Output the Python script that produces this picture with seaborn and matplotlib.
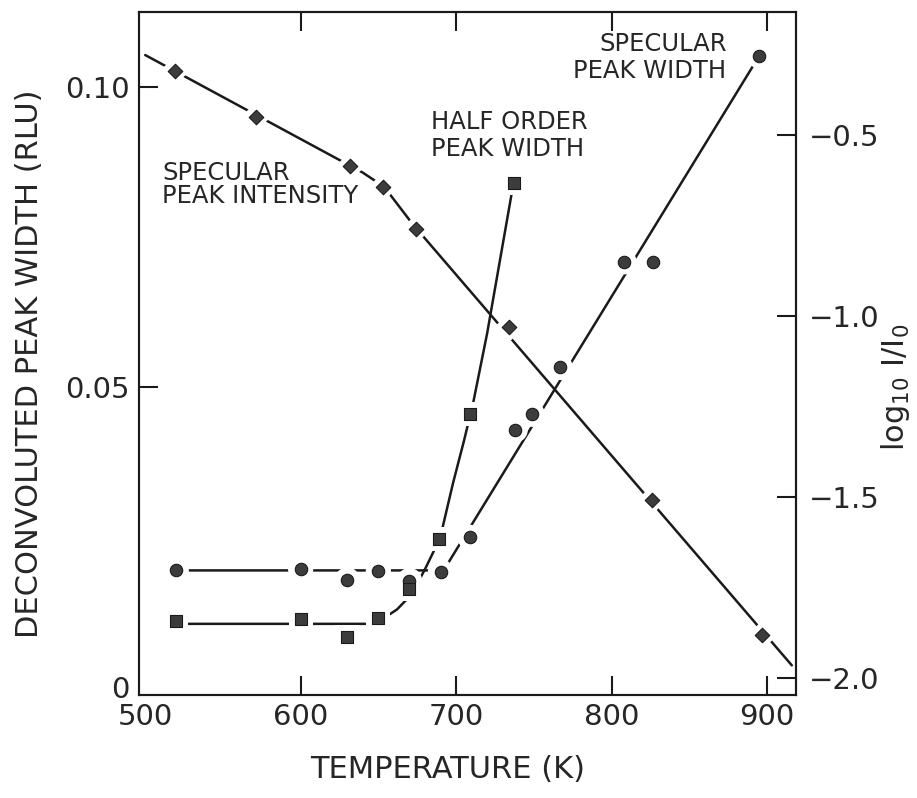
import numpy as np
import pandas as pd
import matplotlib.pyplot as plt
import seaborn as sns

sns.set_style("ticks")
plt.rcParams['font.family'] = ['DejaVu Sans']

# specular peak width (left axis, circles)
spec_T = [520, 600, 630, 650, 670, 690, 709, 738, 749, 767, 808, 827, 895]
spec_width = [0.0195, 0.0197, 0.0179, 0.0194, 0.0178, 0.0193, 0.0250, 0.0429,
              0.0455, 0.0533, 0.0709, 0.0709, 0.1052]
spec_fit_T = [520, 692, 896]
spec_fit_width = [0.0195, 0.0195, 0.1056]

# half order peak width (left axis, squares)
half_T = [520, 600, 630, 650, 670, 689, 709, 737]
half_width = [0.0110, 0.0114, 0.0084, 0.0116, 0.0164, 0.0247, 0.0455, 0.0841]
half_fit_T = [520, 645, 655, 662, 668, 674, 680, 686, 691, 698, 705, 711, 720, 737]
half_fit_width = [0.0106, 0.0106, 0.0118, 0.0130, 0.0146, 0.0168, 0.0197, 0.0229,
                  0.0263, 0.0340, 0.0410, 0.0474, 0.0590, 0.0841]

# specular peak intensity (right axis, diamonds)
int_T = [519, 571, 632, 653, 674, 734, 826, 897]
int_log = [-0.322, -0.450, -0.585, -0.643, -0.760, -1.031, -1.508, -1.882]
int_fit_T = [500, 640, 648, 656, 664, 672, 916]
int_fit_log = [-0.278, -0.603, -0.626, -0.655, -0.700, -0.745, -1.965]

fig, ax = plt.subplots(figsize=(9.17, 7.98), dpi=100)
fig.subplots_adjust(left=139/917, right=796/917, bottom=1 - 695/798, top=1 - 12/798)
ax2 = ax.twinx()

lw = 1.8
ink = '#1a1a1a'
fill = '#3c3c3c'

# fitted curves
sns.lineplot(x=spec_fit_T, y=spec_fit_width, ax=ax, color=ink, lw=lw, estimator=None, zorder=1)
sns.lineplot(x=half_fit_T, y=half_fit_width, ax=ax, color=ink, lw=lw, estimator=None, zorder=1)
sns.lineplot(x=int_fit_T, y=int_fit_log, ax=ax2, color=ink, lw=lw, estimator=None, zorder=1)

# white halos -> gaps in the lines around the points
sns.scatterplot(x=spec_T, y=spec_width, ax=ax, marker='o', s=330, color='white', edgecolor='none', zorder=2)
sns.scatterplot(x=half_T, y=half_width, ax=ax, marker='s', s=300, color='white', edgecolor='none', zorder=2)
sns.scatterplot(x=int_T, y=int_log, ax=ax2, marker='D', s=230, color='white', edgecolor='none', zorder=2)

# data points
sns.scatterplot(x=spec_T, y=spec_width, ax=ax, marker='o', s=80, color=fill, edgecolor=ink, linewidth=0.8, zorder=3)
sns.scatterplot(x=half_T, y=half_width, ax=ax, marker='s', s=70, color=fill, edgecolor=ink, linewidth=0.8, zorder=3)
sns.scatterplot(x=int_T, y=int_log, ax=ax2, marker='D', s=55, color=fill, edgecolor=ink, linewidth=0.8, zorder=3)

ax.set_xlim(496, 918.7)
ax.set_ylim(-0.00125, 0.1125)
ax2.set_ylim(-2.047, -0.159)

# 500 K and 0 sit on the frame: label them through minor ticks with no mark
ax.set_xticks([600, 700, 800, 900])
ax.set_xticks([500], minor=True)
ax.set_xticklabels(['500'], minor=True)
ax.set_yticks([0.05, 0.10])
ax.set_yticklabels(['0.05', '0.10'])
ax.set_yticks([0], minor=True)
ax.set_yticklabels(['0'], minor=True)
ax2.set_yticks([-0.5, -1.0, -1.5, -2.0])
ax2.set_yticklabels(['\u22120.5', '\u22121.0', '\u22121.5', '\u22122.0'])

for sp in list(ax.spines.values()) + list(ax2.spines.values()):
    sp.set_linewidth(1.5)
    sp.set_color(ink)

ax.set_xlabel('TEMPERATURE (K)', fontsize=22)
ax.xaxis.set_label_coords(0.47, -0.088)
ax.set_ylabel('DECONVOLUTED PEAK WIDTH (RLU)', fontsize=22)
ax.yaxis.label.set_va('center')
ax.yaxis.set_label_coords(-0.166, 0.485)
ax2.set_ylabel('log$_{10}$ I/I$_0$', fontsize=22, rotation=90)
ax2.yaxis.label.set_va('center')
ax2.yaxis.set_label_coords(1.151, 0.451)

ax.text(510.8, 0.0838, 'SPECULAR\nPEAK INTENSITY', ha='left', va='center',
        fontsize=17.5, linespacing=0.95)
ax.text(683.8, 0.0920, 'HALF ORDER\nPEAK WIDTH', ha='left', va='center',
        fontsize=17.5, linespacing=1.15)
ax.text(874, 0.1049, 'SPECULAR\nPEAK WIDTH', ha='right', va='center',
        multialignment='right', fontsize=17.5, linespacing=1.15)

ax.tick_params(axis='x', which='major', direction='in', length=14, width=1.5,
               color=ink, labelsize=21, bottom=True, top=True, pad=6)
ax.tick_params(axis='x', which='minor', length=0, labelsize=21, bottom=True, top=False, pad=6)
ax.tick_params(axis='y', which='major', direction='in', length=14, width=1.5,
               color=ink, labelsize=21, left=True, right=False, pad=7)
ax.tick_params(axis='y', which='minor', length=0, labelsize=21, left=True, right=False, pad=7)
ax2.tick_params(axis='y', which='major', direction='in', length=14, width=1.5,
                color=ink, labelsize=21, right=True, left=False, pad=9)
ax2.tick_params(axis='y', which='minor', length=0, right=False, left=False)

# draw once before saving: the inward marks on the labelled sides only
# came out after a first draw in the test runs
fig.canvas.draw()
plt.savefig('out.png', dpi=100)
